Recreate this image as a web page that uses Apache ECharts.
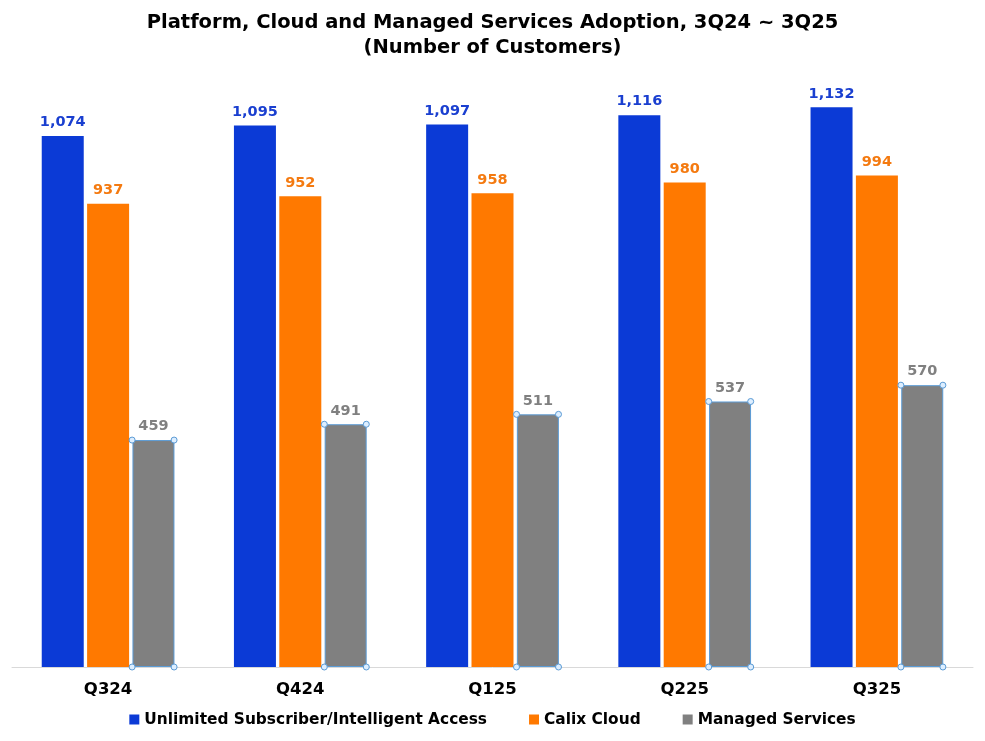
<!DOCTYPE html>
<html>
<head>
<meta charset="utf-8">
<script src="https://cdn.jsdelivr.net/npm/echarts@6/dist/echarts.min.js"></script>
<style>html,body{margin:0;padding:0;background:#fff;}#c{width:985px;height:741px;}</style>
</head>
<body>
<div id="c"></div>
<script>
const categories = ['Q324', 'Q424', 'Q125', 'Q225', 'Q325'];
const unlimitedSubscriber = [1074, 1095, 1097, 1116, 1132];
const calixCloud = [937, 952, 958, 980, 994];
const managedServices = [459, 491, 511, 537, 570];
const seriesNames = ['Unlimited Subscriber/Intelligent Access', 'Calix Cloud', 'Managed Services'];

const FONT = '"DejaVu Sans", "Liberation Sans", Arial, sans-serif';
const fmt = p => Number(p.value).toLocaleString('en-US');
function lbl(color) {
  return { show: true, position: 'top', distance: 6, color: color, fontWeight: 'bold', fontSize: 14.5, fontFamily: FONT, formatter: fmt };
}
const chart = echarts.init(document.getElementById('c'), null, { renderer: 'canvas' });
chart.setOption({
  animation: false,
  backgroundColor: '#ffffff',
  title: {
    text: 'Platform, Cloud and Managed Services Adoption, 3Q24 ~ 3Q25\n(Number of Customers)',
    left: 'center', top: 5,
    textStyle: { fontFamily: FONT, fontWeight: 'bold', fontSize: 19.5, color: '#000', lineHeight: 25 }
  },
  legend: {
    bottom: 9, left: 'center', itemWidth: 10, itemHeight: 10, itemGap: 42, icon: 'rect',
    itemStyle: { borderWidth: 0 },
    textStyle: { fontFamily: FONT, fontWeight: 'bold', fontSize: 15.4, color: '#000' },
    data: seriesNames
  },
  grid: { left: 12, right: 12, top: 73.7, bottom: 74, containLabel: false },
  xAxis: {
    type: 'category', data: categories,
    axisLine: { lineStyle: { color: '#d9d9d9', width: 1 } },
    axisTick: { show: false },
    axisLabel: { color: '#000', fontWeight: 'bold', fontSize: 16.5, fontFamily: FONT, margin: 14 }
  },
  yAxis: { type: 'value', min: 0, max: 1200, show: false, splitLine: { show: false } },
  series: [
    { name: seriesNames[0], type: 'bar', data: unlimitedSubscriber, barWidth: 42, barGap: '8%',
      itemStyle: { color: '#0b3ad6' }, label: lbl('#1a3fd0') },
    { name: seriesNames[1], type: 'bar', data: calixCloud, barWidth: 42, barGap: '8%',
      itemStyle: { color: '#ff7900' }, label: lbl('#f47a10') },
    { name: seriesNames[2], type: 'bar', data: managedServices, barWidth: 42, barGap: '8%',
      itemStyle: { color: '#808080', borderColor: '#5b9bd5', borderWidth: 1 }, label: lbl('#808080') },
    { name: 'handles', type: 'custom', data: managedServices.map((v, i) => [i, v]),
      silent: true, z: 5, legendHoverLink: false,
      renderItem: function (params, api) {
        const top = api.coord([api.value(0), api.value(1)]);
        const base = api.coord([api.value(0), 0]);
        const x0 = top[0] + 24, x1 = top[0] + 66;
        const pts = [[x0, top[1]], [x1, top[1]], [x0, base[1]], [x1, base[1]]];
        return { type: 'group', children: pts.map(p => ({
          type: 'circle', shape: { cx: p[0], cy: p[1], r: 3 },
          style: { fill: '#ddeeff', stroke: '#5b9bd5', lineWidth: 1 }
        })) };
      }
    }
  ]
});
</script>
</body>
</html>
